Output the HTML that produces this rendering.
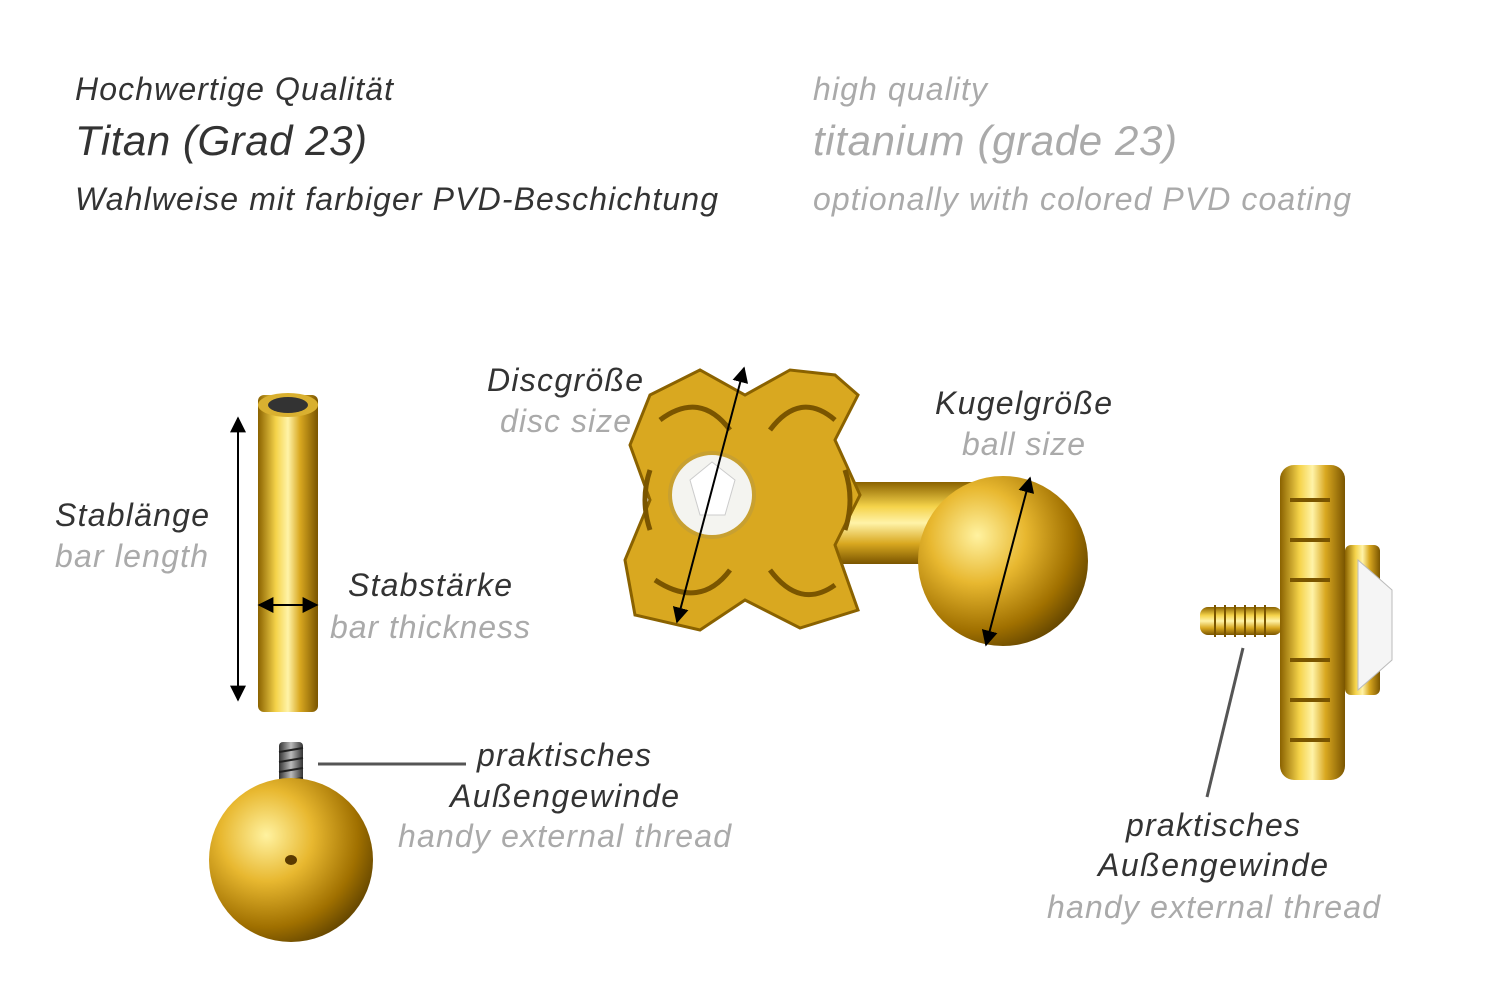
<!DOCTYPE html>
<html><head><meta charset="utf-8"><style>
html,body{margin:0;padding:0;background:#fff;}
svg{display:block;}
text{font-family:"Liberation Sans",Arial,sans-serif;font-style:italic;}
.d{fill:#333;}
.g{fill:#aaa;}
</style></head><body>
<svg width="1500" height="1001" viewBox="0 0 1500 1001" xmlns="http://www.w3.org/2000/svg">
<defs>
<linearGradient id="gv" x1="0" x2="1" y1="0" y2="0">
<stop offset="0" stop-color="#8a6200"/><stop offset="0.3" stop-color="#f5d34a"/><stop offset="0.5" stop-color="#fff3a8"/><stop offset="0.7" stop-color="#d9a820"/><stop offset="1" stop-color="#7a5500"/>
</linearGradient>
<linearGradient id="gh" x1="0" x2="0" y1="0" y2="1">
<stop offset="0" stop-color="#8a6200"/><stop offset="0.3" stop-color="#f5d34a"/><stop offset="0.5" stop-color="#fff3a8"/><stop offset="0.75" stop-color="#d9a820"/><stop offset="1" stop-color="#7a5500"/>
</linearGradient>
<radialGradient id="gb" cx="0.35" cy="0.35" r="0.7">
<stop offset="0" stop-color="#fff2a0"/><stop offset="0.4" stop-color="#e8b830"/><stop offset="0.8" stop-color="#a07000"/><stop offset="1" stop-color="#6a4a00"/>
</radialGradient>
<linearGradient id="gt" x1="0" x2="1"><stop offset="0" stop-color="#333"/><stop offset="0.5" stop-color="#bbb"/><stop offset="1" stop-color="#333"/></linearGradient>
<marker id="ah" viewBox="0 0 10 10" refX="9" refY="5" markerWidth="8" markerHeight="8" orient="auto-start-reverse"><path d="M0,0 L10,5 L0,10 z" fill="#000"/></marker>
</defs>

<text x="75" y="100" font-size="32" class="d" textLength="318" lengthAdjust="spacing">Hochwertige Qualität</text>
<text x="75" y="155" font-size="42" class="d" textLength="292" lengthAdjust="spacing">Titan (Grad 23)</text>
<text x="75" y="210" font-size="32" class="d" textLength="643" lengthAdjust="spacing">Wahlweise mit farbiger PVD-Beschichtung</text>
<text x="813" y="100" font-size="32" class="g" textLength="174" lengthAdjust="spacing">high quality</text>
<text x="813" y="155" font-size="42" class="g" textLength="364" lengthAdjust="spacing">titanium (grade 23)</text>
<text x="813" y="210" font-size="32" class="g" textLength="538" lengthAdjust="spacing">optionally with colored PVD coating</text>

<rect x="258" y="395" width="60" height="317" rx="6" fill="url(#gv)"/>
<ellipse cx="288" cy="405" rx="30" ry="12" fill="#d9b030"/>
<ellipse cx="288" cy="405" rx="20" ry="8" fill="#333"/>
<line x1="238" y1="418" x2="238" y2="700" stroke="#000" stroke-width="2" marker-start="url(#ah)" marker-end="url(#ah)"/>
<line x1="259" y1="605" x2="317" y2="605" stroke="#000" stroke-width="2" marker-start="url(#ah)" marker-end="url(#ah)"/>
<rect x="279" y="742" width="24" height="58" rx="4" fill="url(#gt)"/>
<g stroke="#222" stroke-width="2"><line x1="279" y1="752" x2="303" y2="748"/><line x1="279" y1="762" x2="303" y2="758"/><line x1="279" y1="772" x2="303" y2="768"/><line x1="279" y1="782" x2="303" y2="778"/><line x1="279" y1="792" x2="303" y2="788"/></g>
<circle cx="291" cy="860" r="82" fill="url(#gb)"/>
<ellipse cx="291" cy="860" rx="6" ry="5" fill="#5a3a00"/>
<line x1="318" y1="764" x2="466" y2="764" stroke="#555" stroke-width="3"/>

<text x="55" y="526" font-size="32" class="d" textLength="154" lengthAdjust="spacing">Stablänge</text>
<text x="55" y="567" font-size="32" class="g" textLength="153" lengthAdjust="spacing">bar length</text>
<text x="348" y="596" font-size="32" class="d" textLength="164" lengthAdjust="spacing">Stabstärke</text>
<text x="330" y="638" font-size="32" class="g" textLength="200" lengthAdjust="spacing">bar thickness</text>
<text x="477" y="766" font-size="32" class="d" textLength="174" lengthAdjust="spacing">praktisches</text>
<text x="450" y="807" font-size="32" class="d" textLength="229" lengthAdjust="spacing">Außengewinde</text>
<text x="398" y="847" font-size="32" class="g" textLength="333" lengthAdjust="spacing">handy external thread</text>

<rect x="820" y="482" width="165" height="82" fill="url(#gh)"/>
<circle cx="1003" cy="561" r="85" fill="url(#gb)"/>
<g fill="#d9a820" stroke="#8a6200" stroke-width="3">
<path d="M650,395 L700,370 L745,395 L790,370 L835,375 L858,395 L835,440 L860,495 L835,545 L858,610 L800,628 L745,600 L700,630 L635,615 L625,560 L650,500 L630,445 Z"/>
</g>
<g fill="none" stroke="#7a5500" stroke-width="5">
<path d="M660,420 Q700,390 730,430"/><path d="M770,430 Q800,390 835,420"/>
<path d="M655,580 Q700,610 730,570"/><path d="M770,570 Q800,610 835,585"/>
<path d="M650,470 Q640,500 650,530"/><path d="M845,470 Q855,500 845,530"/>
</g>
<circle cx="712" cy="495" r="42" fill="#f4f4f0" stroke="#c8a030" stroke-width="4"/>
<path d="M690,480 L712,462 L735,480 L725,515 L700,515 Z" fill="#fff" stroke="#ccc"/>
<line x1="744" y1="368" x2="677" y2="622" stroke="#000" stroke-width="2" marker-start="url(#ah)" marker-end="url(#ah)"/>
<line x1="1030" y1="478" x2="986" y2="645" stroke="#000" stroke-width="2" marker-start="url(#ah)" marker-end="url(#ah)"/>

<text x="487" y="391" font-size="32" class="d" textLength="156" lengthAdjust="spacing">Discgröße</text>
<text x="500" y="432" font-size="32" class="g" textLength="131" lengthAdjust="spacing">disc size</text>
<text x="935" y="414" font-size="32" class="d" textLength="177" lengthAdjust="spacing">Kugelgröße</text>
<text x="962" y="455" font-size="32" class="g" textLength="123" lengthAdjust="spacing">ball size</text>

<rect x="1200" y="607" width="82" height="28" rx="8" fill="url(#gh)"/>
<g stroke="#7a5500" stroke-width="2"><line x1="1215" y1="605" x2="1215" y2="637"/><line x1="1225" y1="605" x2="1225" y2="637"/><line x1="1235" y1="605" x2="1235" y2="637"/><line x1="1245" y1="605" x2="1245" y2="637"/><line x1="1255" y1="605" x2="1255" y2="637"/><line x1="1265" y1="605" x2="1265" y2="637"/></g>
<rect x="1280" y="465" width="65" height="315" rx="14" fill="url(#gv)"/>
<g fill="none" stroke="#7a5500" stroke-width="4">
<path d="M1290,500 h40"/><path d="M1290,540 h40"/><path d="M1290,580 h40"/><path d="M1290,660 h40"/><path d="M1290,700 h40"/><path d="M1290,740 h40"/>
</g>
<rect x="1345" y="545" width="35" height="150" rx="6" fill="url(#gv)"/>
<path d="M1358,560 L1392,590 L1392,660 L1358,690 Z" fill="#f5f5f5" stroke="#bbb"/>
<line x1="1243" y1="648" x2="1207" y2="797" stroke="#555" stroke-width="3"/>

<text x="1126" y="836" font-size="32" class="d" textLength="174" lengthAdjust="spacing">praktisches</text>
<text x="1098" y="876" font-size="32" class="d" textLength="230" lengthAdjust="spacing">Außengewinde</text>
<text x="1047" y="918" font-size="32" class="g" textLength="333" lengthAdjust="spacing">handy external thread</text>
</svg>
</body></html>
